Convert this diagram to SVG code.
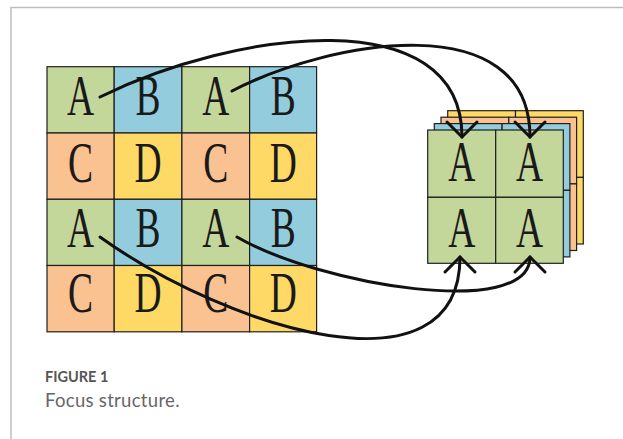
<svg xmlns="http://www.w3.org/2000/svg" width="623" height="439" viewBox="0 0 623 439">
  <style>
    .cell { stroke: #1f1f1f; stroke-width: 1.2; }
    .a { fill: #c4d79b; }
    .b { fill: #93cddd; }
    .c { fill: #fac191; }
    .d { fill: #ffd966; }
    .lt { font-family: "Liberation Serif", "Times New Roman", serif; font-size: 56px; fill: #1a1a1a; text-anchor: middle; }
    .link { fill: none; stroke: #111; stroke-width: 3; stroke-linecap: round; }
    .frame { fill: none; stroke: #bdbdbd; stroke-width: 1.5; }
    .cap1 { font-family: Lato, "Open Sans", sans-serif; font-weight: bold; font-size: 14.5px; fill: #555; }
    .cap2 { font-family: Lato, "Open Sans", sans-serif; font-size: 18.5px; letter-spacing: 0.3px; fill: #666; }
  </style>
  <defs>
    <marker id="chev" markerUnits="userSpaceOnUse" viewBox="-18 -18 22 36" markerWidth="22" markerHeight="36" refX="0" refY="0" orient="auto">
      <path d="M-15,-15 L0,0 L-15,15" fill="none" stroke="#111" stroke-width="3" stroke-linecap="round" stroke-linejoin="miter"/>
    </marker>
  </defs>

  <rect width="623" height="439" fill="#fff"/>
  <path class="frame" d="M11,439 V7.5 H623"/>

  <!-- source feature map, 4 x 4 -->
  <g id="source-grid">
    <rect class="cell a" x="47" y="66.7" width="67.2" height="66.3"/>
    <rect class="cell b" x="114.2" y="66.7" width="67.7" height="66.3"/>
    <rect class="cell a" x="181.9" y="66.7" width="67.7" height="66.3"/>
    <rect class="cell b" x="249.6" y="66.7" width="67" height="66.3"/>

    <rect class="cell c" x="47" y="133" width="67.2" height="66.3"/>
    <rect class="cell d" x="114.2" y="133" width="67.7" height="66.3"/>
    <rect class="cell c" x="181.9" y="133" width="67.7" height="66.3"/>
    <rect class="cell d" x="249.6" y="133" width="67" height="66.3"/>

    <rect class="cell a" x="47" y="199.3" width="67.2" height="66.2"/>
    <rect class="cell b" x="114.2" y="199.3" width="67.7" height="66.2"/>
    <rect class="cell a" x="181.9" y="199.3" width="67.7" height="66.2"/>
    <rect class="cell b" x="249.6" y="199.3" width="67" height="66.2"/>

    <rect class="cell c" x="47" y="265.5" width="67.2" height="66.3"/>
    <rect class="cell d" x="114.2" y="265.5" width="67.7" height="66.3"/>
    <rect class="cell c" x="181.9" y="265.5" width="67.7" height="66.3"/>
    <rect class="cell d" x="249.6" y="265.5" width="67" height="66.3"/>

    <text class="lt" transform="translate(80.5,115) scale(0.67,1)">A</text>
    <text class="lt" transform="translate(148,115) scale(0.67,1)">B</text>
    <text class="lt" transform="translate(215.8,115) scale(0.67,1)">A</text>
    <text class="lt" transform="translate(283.2,115) scale(0.67,1)">B</text>

    <text class="lt" transform="translate(80.5,181.5) scale(0.67,1)">C</text>
    <text class="lt" transform="translate(148,181.5) scale(0.67,1)">D</text>
    <text class="lt" transform="translate(215.8,181.5) scale(0.67,1)">C</text>
    <text class="lt" transform="translate(283.2,181.5) scale(0.67,1)">D</text>

    <text class="lt" transform="translate(80.5,247) scale(0.67,1)">A</text>
    <text class="lt" transform="translate(148,247) scale(0.67,1)">B</text>
    <text class="lt" transform="translate(215.8,247) scale(0.67,1)">A</text>
    <text class="lt" transform="translate(283.2,247) scale(0.67,1)">B</text>

    <text class="lt" transform="translate(80.5,312) scale(0.67,1)">C</text>
    <text class="lt" transform="translate(148,312) scale(0.67,1)">D</text>
    <text class="lt" transform="translate(215.8,312) scale(0.67,1)">C</text>
    <text class="lt" transform="translate(283.2,312) scale(0.67,1)">D</text>
  </g>

  <!-- pooled output: four stacked 2 x 2 channel maps -->
  <g id="stack-d">
    <rect class="cell d" x="447.7" y="110.7" width="67.8" height="66.7"/>
    <rect class="cell d" x="515.5" y="110.7" width="67.8" height="66.7"/>
    <rect class="cell d" x="447.7" y="177.4" width="67.8" height="66.6"/>
    <rect class="cell d" x="515.5" y="177.4" width="67.8" height="66.6"/>
  </g>
  <g id="stack-c">
    <rect class="cell c" x="441" y="117.2" width="67.8" height="66.7"/>
    <rect class="cell c" x="508.8" y="117.2" width="67.8" height="66.7"/>
    <rect class="cell c" x="441" y="183.9" width="67.8" height="66.6"/>
    <rect class="cell c" x="508.8" y="183.9" width="67.8" height="66.6"/>
  </g>
  <g id="stack-b">
    <rect class="cell b" x="434.3" y="123.6" width="67.8" height="66.7"/>
    <rect class="cell b" x="502.1" y="123.6" width="67.8" height="66.7"/>
    <rect class="cell b" x="434.3" y="190.3" width="67.8" height="66.6"/>
    <rect class="cell b" x="502.1" y="190.3" width="67.8" height="66.6"/>
  </g>
  <g id="stack-a">
    <rect class="cell a" x="427.7" y="130" width="68" height="67.3"/>
    <rect class="cell a" x="495.7" y="130" width="67.6" height="67.3"/>
    <rect class="cell a" x="427.7" y="197.3" width="68" height="66"/>
    <rect class="cell a" x="495.7" y="197.3" width="67.6" height="66"/>
    <text class="lt" transform="translate(461.7,180.7) scale(0.67,1)">A</text>
    <text class="lt" transform="translate(529.5,180.7) scale(0.67,1)">A</text>
    <text class="lt" transform="translate(461.7,246.7) scale(0.67,1)">A</text>
    <text class="lt" transform="translate(529.5,246.7) scale(0.67,1)">A</text>
  </g>

  <!-- connectors from each A cell to the pooled map -->
  <g id="connectors">
    <path class="link" marker-end="url(#chev)" d="M100,97 C235,30 462,0 462,137"/>
    <path class="link" marker-end="url(#chev)" d="M232,91 C330,40 530,5 530,137"/>
    <path class="link" marker-end="url(#chev)" d="M100,237 C230,330 460,400 460,257"/>
    <path class="link" marker-end="url(#chev)" d="M237,237 C320,285 530,320 530,257"/>
  </g>

  <g id="caption">
    <text class="cap1" x="45" y="382">FIGURE 1</text>
    <text class="cap2" x="45" y="407">Focus structure.</text>
  </g>
</svg>
